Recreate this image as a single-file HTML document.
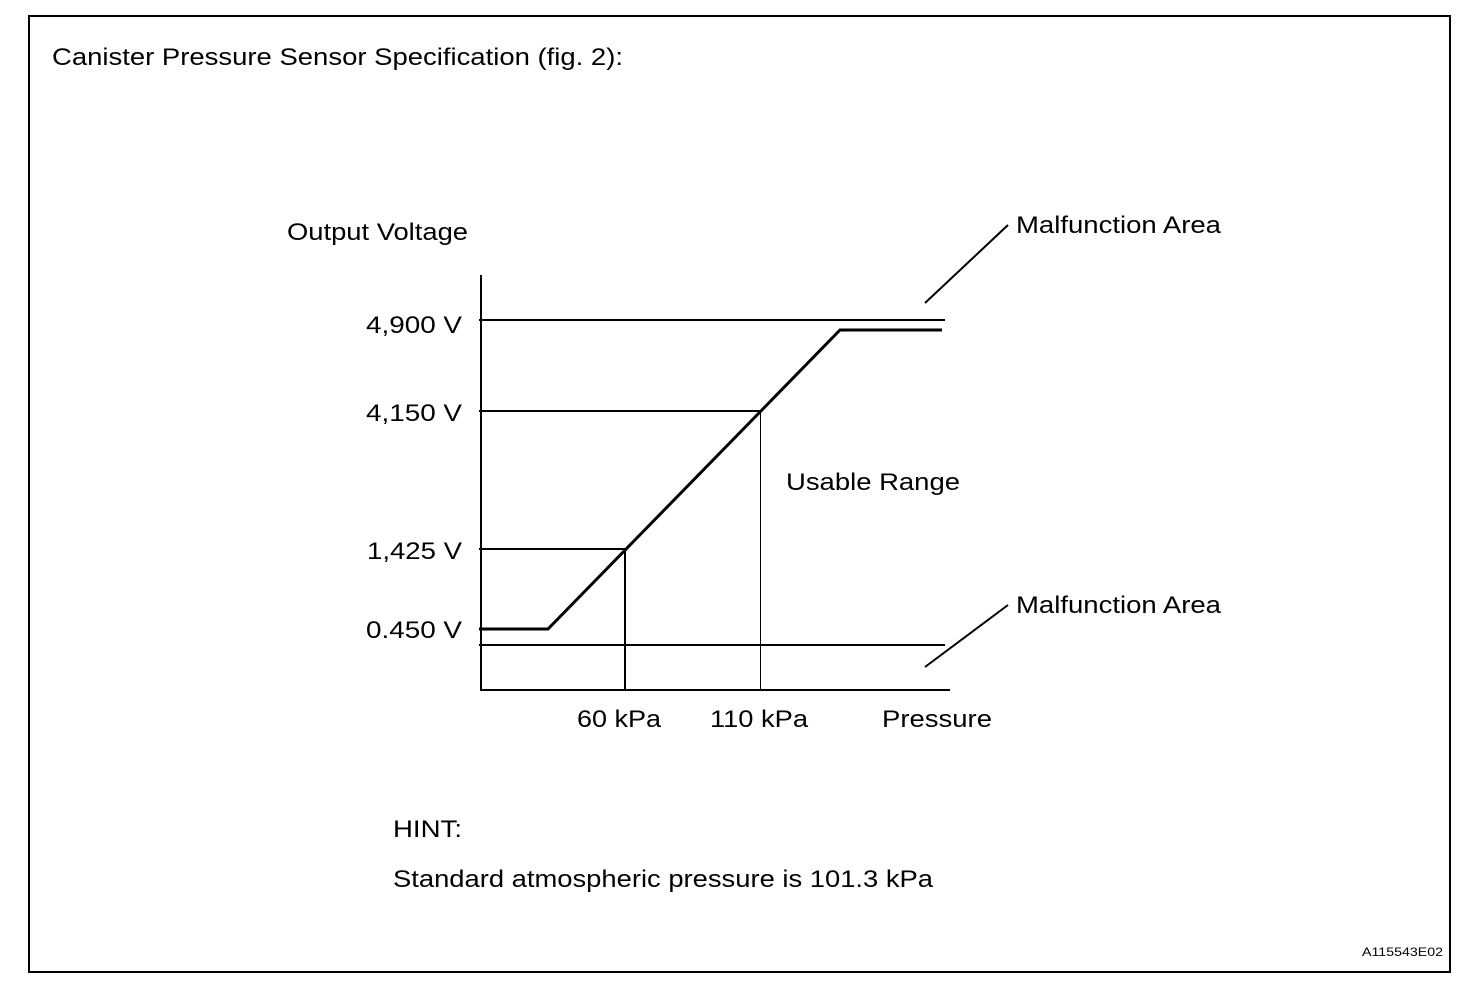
<!DOCTYPE html><html><head><style>body{margin:0;background:#fff}svg{display:block}text{font-family:"Liberation Sans",Arial,sans-serif;fill:#000}</style></head><body>
<svg width="1472" height="988" viewBox="0 0 1472 988">
<rect x="29" y="16" width="1421" height="956" fill="none" stroke="#000" stroke-width="2"/>
<text x="52" y="65" font-size="24" textLength="571" lengthAdjust="spacingAndGlyphs">Canister Pressure Sensor Specification (fig. 2):</text>
<text x="287" y="240" font-size="24" textLength="181" lengthAdjust="spacingAndGlyphs">Output Voltage</text>
<text x="366" y="333" font-size="24" textLength="96" lengthAdjust="spacingAndGlyphs">4,900 V</text>
<text x="366" y="421" font-size="24" textLength="96" lengthAdjust="spacingAndGlyphs">4,150 V</text>
<text x="367" y="559" font-size="24" textLength="95" lengthAdjust="spacingAndGlyphs">1,425 V</text>
<text x="366" y="638" font-size="24" textLength="96" lengthAdjust="spacingAndGlyphs">0.450 V</text>
<text x="577" y="727" font-size="24" textLength="84" lengthAdjust="spacingAndGlyphs">60 kPa</text>
<text x="710" y="727" font-size="24" textLength="98" lengthAdjust="spacingAndGlyphs">110 kPa</text>
<text x="882" y="727" font-size="24" textLength="110" lengthAdjust="spacingAndGlyphs">Pressure</text>
<text x="786" y="490" font-size="24" textLength="174" lengthAdjust="spacingAndGlyphs">Usable Range</text>
<text x="1016" y="233" font-size="24" textLength="205" lengthAdjust="spacingAndGlyphs">Malfunction Area</text>
<text x="1016" y="613" font-size="24" textLength="205" lengthAdjust="spacingAndGlyphs">Malfunction Area</text>
<text x="393" y="837" font-size="24" textLength="69" lengthAdjust="spacingAndGlyphs">HINT:</text>
<text x="393" y="887" font-size="24" textLength="540" lengthAdjust="spacingAndGlyphs">Standard atmospheric pressure is 101.3 kPa</text>
<text x="1362" y="956" font-size="12" textLength="81" lengthAdjust="spacingAndGlyphs">A115543E02</text>
<g stroke="#000" fill="none">
<line x1="481" y1="275" x2="481" y2="691" stroke-width="2"/>
<line x1="480" y1="690" x2="950" y2="690" stroke-width="2"/>
<line x1="479" y1="320" x2="945" y2="320" stroke-width="2"/>
<line x1="479" y1="411" x2="762" y2="411" stroke-width="2"/>
<line x1="479" y1="549" x2="626" y2="549" stroke-width="2"/>
<line x1="479" y1="645" x2="945" y2="645" stroke-width="2"/>
<line x1="625" y1="549" x2="625" y2="690" stroke-width="2"/>
<line x1="760.5" y1="411" x2="760.5" y2="690" stroke-width="1"/>
<polyline points="479,629 548,629 840,330 942,330" stroke-width="3"/>
<line x1="925" y1="303" x2="1008" y2="225" stroke-width="2"/>
<line x1="925" y1="667" x2="1008" y2="605" stroke-width="2"/>
</g>
</svg></body></html>
